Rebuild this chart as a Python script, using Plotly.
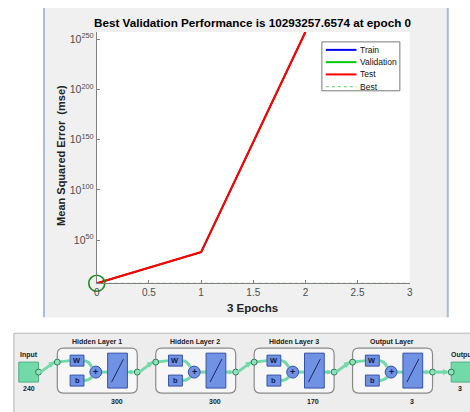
import math
import plotly.graph_objects as go

W, H = 470, 412

# ---------------- data ----------------
epochs = [0, 1, 2]
train_perf = [1.0293e7, 1.0e38, 1.2e257]
val_perf = [1.0293e7, 1.0e38, 1.2e257]
test_perf = [1.0293e7, 1.0e38, 1.2e257]
best_epoch = 0
best_perf = 10293257.6574
n_epochs = 3
x_ticks = [0, 0.5, 1, 1.5, 2, 2.5, 3]
x_ticklabels = ["0", "0.5", "1", "1.5", "2", "2.5", "3"]
y_tick_exps = [50, 100, 150, 200, 250]

layer_names = ["Hidden Layer 1", "Hidden Layer 2", "Hidden Layer 3", "Output Layer"]
layer_sizes = [300, 300, 170, 3]
input_size = 240
output_size = 3

# ---------------- helpers (pixel -> paper) ----------------
def px(x):
    return x / W

def py(y):
    return 1 - y / H

shapes = []
annotations = []

def rect(x0, y0, x1, y1, fill, line=None, lw=1, layer="above"):
    shapes.append(dict(type="rect", xref="paper", yref="paper",
                       x0=px(x0), x1=px(x1), y0=py(y1), y1=py(y0),
                       fillcolor=fill, layer=layer,
                       line=dict(color=line or fill, width=lw if line else 0)))

def seg(x0, y0, x1, y1, color, lw=1, dash="solid", layer="above"):
    shapes.append(dict(type="line", xref="paper", yref="paper",
                       x0=px(x0), x1=px(x1), y0=py(y0), y1=py(y1), layer=layer,
                       line=dict(color=color, width=lw, dash=dash)))

def circ(cx, cy, r, fill, line, lw=1):
    shapes.append(dict(type="circle", xref="paper", yref="paper",
                       x0=px(cx - r), x1=px(cx + r), y0=py(cy + r), y1=py(cy - r),
                       fillcolor=fill, line=dict(color=line, width=lw)))

def path(d_pts, fill=None, line="black", lw=1):
    shapes.append(dict(type="path", xref="paper", yref="paper", path=d_pts,
                       fillcolor=fill if fill else "rgba(0,0,0,0)",
                       line=dict(color=line, width=lw)))

def P(x, y):
    return f"{px(x):.5f},{py(y):.5f}"

def rrect(x0, y0, x1, y1, r, fill, line, lw=1):
    d = (f"M{P(x0 + r, y0)} L{P(x1 - r, y0)} Q{P(x1, y0)} {P(x1, y0 + r)} "
         f"L{P(x1, y1 - r)} Q{P(x1, y1)} {P(x1 - r, y1)} L{P(x0 + r, y1)} "
         f"Q{P(x0, y1)} {P(x0, y1 - r)} L{P(x0, y0 + r)} Q{P(x0, y0)} {P(x0 + r, y0)} Z")
    path(d, fill, line, lw)

def text(x, y, s, size=9, color="black", bold=False, anchor="center", angle=0, family="Arial"):
    annotations.append(dict(xref="paper", yref="paper", x=px(x), y=py(y),
                            text=f"<b>{s}</b>" if bold else s, showarrow=False,
                            xanchor=anchor, yanchor="middle", textangle=angle,
                            font=dict(size=size, color=color, family=family)))

def arrow_head(xt, yt, dx, dy, size, color):
    n = math.hypot(dx, dy)
    ux, uy = dx / n, dy / n
    bx, by = xt - ux * size, yt - uy * size
    nx, ny = -uy * size * 0.55, ux * size * 0.55
    d = f"M{P(xt, yt)} L{P(bx + nx, by + ny)} L{P(bx - nx, by - ny)} Z"
    path(d, color, color, 0.5)

# ---------------- chart panel ----------------
rect(41, 7, 451, 317, "#f0f0f0", layer="below")
rect(95, 31, 412, 283, "#ffffff", layer="below")
seg(41.5, 7, 41.5, 317, "#a7bcd6", 2, layer="below")
seg(450.5, 7, 450.5, 317, "#a7bcd6", 2, layer="below")

fig = go.Figure()

fig.add_trace(go.Scatter(x=epochs, y=train_perf, mode="lines", name="Train",
                         line=dict(color="#0000ff", width=1.5), showlegend=False))
fig.add_trace(go.Scatter(x=epochs, y=val_perf, mode="lines", name="Validation",
                         line=dict(color="#00cc00", width=1.5), showlegend=False))
fig.add_trace(go.Scatter(x=epochs, y=test_perf, mode="lines", name="Test",
                         line=dict(color="#ff0000", width=2.2), showlegend=False))
fig.add_trace(go.Scatter(x=[0, n_epochs], y=[best_perf, best_perf], mode="lines", name="Best",
                         line=dict(color="#44bb44", width=1, dash="dot"), showlegend=False))
fig.add_trace(go.Scatter(x=[best_epoch], y=[best_perf], mode="markers", showlegend=False,
                         marker=dict(symbol="circle-open", size=16, color="#1e8c1e",
                                     line=dict(width=1.6, color="#1e8c1e")),
                         cliponaxis=False))

ymin = math.log10(best_perf) - 0.02
ymax = math.log10(max(test_perf))

fig.update_xaxes(domain=[px(95), px(412)], range=[0, n_epochs], tickmode="array",
                 tickvals=x_ticks, ticktext=x_ticklabels, ticks="inside", ticklen=3,
                 tickcolor="#808080", showline=True, linecolor="#808080", linewidth=1,
                 showgrid=False, zeroline=False,
                 tickfont=dict(size=10, color="#4d4d4d", family="Arial"))
fig.update_yaxes(domain=[py(283), py(31)], type="log", range=[ymin, ymax], tickmode="array",
                 tickvals=[10.0 ** e for e in y_tick_exps],
                 ticktext=[f"10<sup>{e}</sup>" for e in y_tick_exps],
                 ticks="inside", ticklen=3, tickcolor="#808080", showline=True,
                 linecolor="#808080", linewidth=1, showgrid=False, zeroline=False,
                 tickfont=dict(size=10.5, color="#4d4d4d", family="Arial"))

# titles
text(253, 22, f"Best Validation Performance is {best_perf:.4f} at epoch {best_epoch}", 11.7, "black", True)
text(58, 155, "Mean Squared Error  (mse)", 11, "#222222", True, angle=-90)
text(253, 308, f"{n_epochs} Epochs", 11.5, "#222222", True)

# legend (drawn manually)
rect(323, 41, 402, 90, "#ffffff", "#7a7a7a", 1)
leg = [("Train", "#0000ff", "solid", 2), ("Validation", "#00cc00", "solid", 2),
       ("Test", "#ff0000", "solid", 2), ("Best", "#66cc66", "dot", 1)]
for i, (nm, col, ds, w) in enumerate(leg):
    yy = 49 + i * 12.3
    seg(327, yy, 358, yy, col, w, ds)
    text(360, yy, nm, 8.5, "#111111", anchor="left")

# ---------------- network diagram ----------------
rect(11, 333, 480, 420, "#ededed", "#b5b5b5", 1)

mint = "#72d9a8"
blue = "#7092e4"
blue_dark = "#3651a8"

def node(cx, cy):
    circ(cx, cy, 3, "#8fe3bb", "#2f7a56", 1)

# input block
rect(16, 362, 36, 382, mint, "#4fae82", 1)
text(26, 355, "Input", 7, "#222222", True)
text(26, 388, str(input_size), 7, "#222222", True)

prev_x, prev_y = 36, 372
node(prev_x, prev_y)
spacing = 99.7
for i, (nm, sz) in enumerate(zip(layer_names, layer_sizes)):
    ox = 55 + i * spacing
    ex, ey = ox, 362
    seg(prev_x + 2, prev_y, ex - 3, ey, mint, 3)
    arrow_head(ex - 3, ey + 0.5, ex - prev_x, ey - prev_y, 5, mint)
    rrect(ox, 348, ox + 81, 393, 6, "#f7f7f7", "#8a8a8a", 1.2)
    text(ox + 40, 342, nm, 7, "#222222", True)
    text(ox + 60, 401, str(sz), 7, "#222222", True)
    seg(ex, ey, ox + 13, 360.5, mint, 3)
    path(f"M{P(ox + 27, 360.5)} Q{P(ox + 32, 360.5)} {P(ox + 35, 367)}", None, mint, 3)
    path(f"M{P(ox + 27, 380.5)} Q{P(ox + 32, 380.5)} {P(ox + 35, 377)}", None, mint, 3)
    seg(ox + 45, 372, ox + 51, 372, mint, 3)
    seg(ox + 71, 372, ox + 77, 372, mint, 3)
    arrow_head(ox + 78, 372, 1, 0, 4, mint)
    rect(ox + 13, 355, ox + 27, 366, blue, blue_dark, 1)
    rect(ox + 13, 375, ox + 27, 386, blue, blue_dark, 1)
    text(ox + 20, 360.5, "W", 7.5, "#101a40", True)
    text(ox + 20, 380.5, "b", 7.5, "#101a40", True)
    circ(ox + 39, 372, 6, blue, blue_dark, 1)
    text(ox + 39, 371.5, "+", 9, "#101a40", True)
    rect(ox + 51, 353, ox + 71, 388, blue, blue_dark, 1)
    seg(ox + 55, 382, ox + 67, 359, "#1c2757", 1)
    node(ex, ey)
    prev_x, prev_y = ox + 81, 372
    node(prev_x, prev_y)

# output block
seg(prev_x + 2, prev_y, 450, 372, mint, 3)
arrow_head(451, 372, 1, 0, 5, mint)
rect(454, 362, 480, 382, mint, "#4fae82", 1)
node(454, 372)
text(452, 355, "Output", 7, "#222222", True, anchor="left")
text(463, 388, str(output_size), 7, "#222222", True)

fig.update_layout(width=W, height=H, margin=dict(l=0, r=0, t=0, b=0),
                  paper_bgcolor="#ffffff", plot_bgcolor="rgba(0,0,0,0)",
                  shapes=shapes, annotations=annotations, showlegend=False,
                  font=dict(family="Arial"))

fig.write_html("out.html")
